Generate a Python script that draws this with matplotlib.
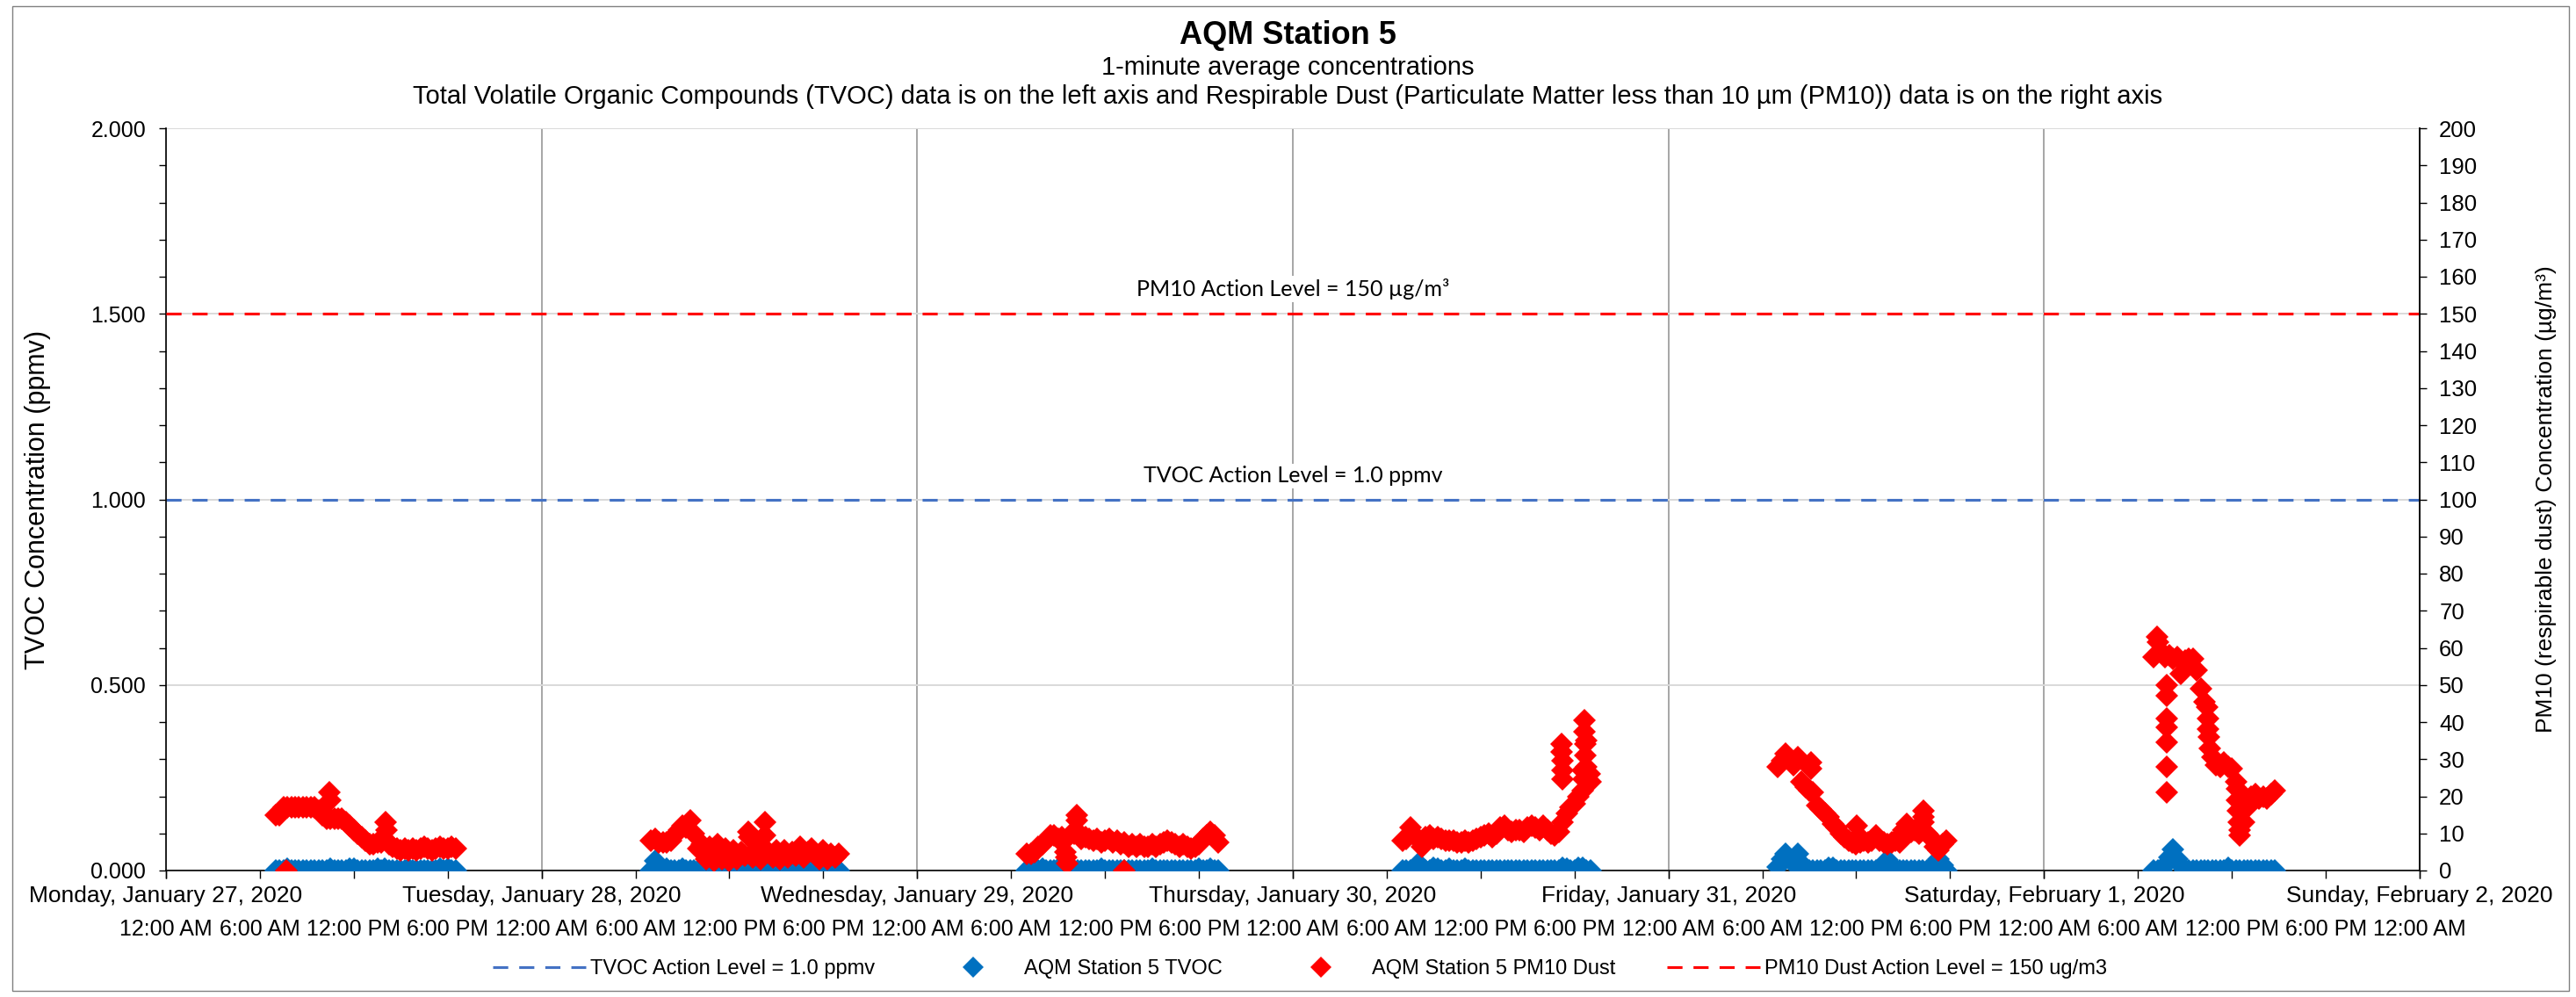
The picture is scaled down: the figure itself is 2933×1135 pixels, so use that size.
import matplotlib
matplotlib.use("Agg")
import matplotlib.pyplot as plt
from matplotlib.lines import Line2D
from matplotlib.patches import Rectangle
from datetime import datetime, timedelta

plt.rcParams['font.family'] = ['Liberation Sans', 'DejaVu Sans']

# ---- data ----
base_day = datetime(2020, 1, 27)
day_labels = ["Monday, January 27, 2020", "Tuesday, January 28, 2020",
              "Wednesday, January 29, 2020", "Thursday, January 30, 2020",
              "Friday, January 31, 2020", "Saturday, February 1, 2020",
              "Sunday, February 2, 2020"]

step_min = 15            # readings below are every 15 minutes
run_start_hour = [7.0, 7.0, 7.0, 7.0, 7.0, 7.0]   # first reading of each day

# PM10 dust (ug/m3), right axis
pm10_jan27 = [15.0, 15.0, 17.0, 17.0, 17.0, 17.0, 17.0, 17.0, 17.0, 17.0, 17.0, 16.0,
              15.0, 14.0, 14.0, 14.0, 14.0, 14.0, 13.0, 12.0, 11.0, 10.0, 9.0, 8.0,
              7.0, 7.0, 7.5, 7.5, 8.5, 7.0, 6.5, 6.0, 5.5, 6.0, 5.5, 6.0,
              5.5, 6.0, 6.5, 6.0, 5.5, 6.0, 6.5, 6.0, 6.0, 6.5, 6.0]
pm10_jan28 = [8.0, 8.5, 7.5, 7.5, 7.5, 8.0, 9.5, 11.0, 12.0, 11.5, 13.5, 10.0,
              6.0, 7.0, 3.0, 6.5, 2.5, 7.0, 3.0, 6.0, 2.5, 5.5, 3.0, 5.0,
              4.0, 9.0, 3.5, 6.0, 3.0, 9.5, 5.0, 3.5, 5.5, 3.0, 5.5, 3.5,
              5.0, 4.0, 6.5, 3.5, 5.0, 6.0, 4.0, 3.0, 5.5, 3.0, 4.5, 3.5, 4.5]
pm10_jan29 = [4.5, 4.5, 5.0, 6.5, 7.0, 8.0, 9.5, 9.5, 8.5, 9.0, 3.5, 9.5,
              10.0, 10.5, 8.5, 9.0, 8.5, 8.0, 8.5, 7.5, 8.0, 8.5, 7.5, 8.0,
              7.0, 7.5, 6.5, 7.0, 6.5, 7.0, 6.5, 6.5, 7.0, 6.5, 7.0, 7.5,
              8.0, 7.5, 7.0, 6.5, 7.0, 6.5, 6.0, 6.5, 7.0, 8.5, 9.5, 10.5, 9.5, 7.5]
pm10_jan30 = [8.0, 8.5, 11.5, 9.5, 8.5, 6.5, 9.0, 9.5, 8.5, 9.0, 8.5, 8.0,
              8.0, 8.0, 7.5, 7.5, 8.0, 7.5, 8.0, 8.5, 9.0, 9.5, 10.0, 9.0,
              10.0, 11.5, 12.0, 11.0, 10.5, 11.0, 11.0, 10.5, 11.5, 12.0, 11.5, 11.0,
              12.0, 11.0, 10.0, 9.5, 10.5, 13.0, 15.5, 17.0, 18.0, 20.0, 27.0, 35.0, 24.0]
pm10_jan31 = [28.0, 29.5, 31.5, 29.5, 28.5, 30.5, 24.0, 22.5, 21.5, 21.0, 17.5, 16.5,
              15.5, 14.5, 12.5, 11.5, 10.0, 9.0, 8.0, 7.5, 7.0, 7.5, 8.0, 7.5,
              8.0, 9.5, 8.0, 7.5, 7.0, 7.5, 8.0, 7.5, 11.0, 12.5, 10.5, 11.0,
              10.0, 11.0, 10.0, 9.0, 6.5, 5.5, 7.0, 8.0]
pm10_feb01 = [57.5, 61.5, 59.0, 57.5, 58.0, 57.0, 57.5, 53.0, 56.5, 57.0, 57.0, 54.0,
              49.0, 45.5, 38.0, 30.5, 28.5, 28.0, 29.0, 28.0, 27.5, 24.0, 11.0, 13.0,
              17.0, 20.0, 20.5, 19.5, 20.0, 19.5, 20.5, 21.5]
pm10_runs = [pm10_jan27, pm10_jan28, pm10_jan29, pm10_jan30, pm10_jan31, pm10_feb01]

# isolated PM10 readings: (day index, hour of day, value)
pm10_extra = [(0, 7.7, 0.0), (0, 10.45, 21.0), (0, 10.5, 19.0), (0, 14.05, 13.0), (0, 14.08, 11.0),
              (1, 13.2, 10.5), (1, 14.3, 13.0),
              (2, 9.45, 5.0), (2, 9.55, 2.0), (2, 10.2, 15.0), (2, 10.22, 13.5), (2, 13.2, 0.0),
              (3, 17.2, 34.0), (3, 17.2, 32.0), (3, 17.22, 29.5), (3, 17.22, 27.0), (3, 17.25, 24.5),
              (3, 18.5, 21.5), (3, 18.55, 24.5), (3, 18.62, 40.5), (3, 18.65, 37.5), (3, 18.68, 34.0),
              (3, 18.7, 31.0), (3, 18.72, 28.0), (3, 18.95, 26.0),
              (4, 9.1, 29.0), (4, 9.1, 27.5), (4, 12.05, 12.0), (4, 16.3, 16.0), (4, 16.3, 14.5),
              (4, 16.3, 13.0),
              (5, 7.2, 63.0), (5, 7.84, 50.0), (5, 7.84, 47.0), (5, 7.84, 41.0), (5, 7.84, 38.5),
              (5, 7.84, 34.5), (5, 7.84, 28.0), (5, 7.84, 21.0), (5, 10.4, 44.0), (5, 10.5, 41.0),
              (5, 10.55, 36.0), (5, 10.6, 33.0), (5, 12.3, 22.0), (5, 12.35, 19.0), (5, 12.4, 16.0),
              (5, 12.45, 13.0), (5, 12.52, 9.5)]

# TVOC (ppmv), left axis
tvoc_jan27 = [0.0, 0.0, 0.0, 0.005, 0.0, 0.0, 0.0, 0.0, 0.0, 0.0, 0.0, 0.0,
              0.0, 0.0, 0.005, 0.0, 0.0, 0.0, 0.0, 0.004, 0.005, 0.0, 0.0, 0.0,
              0.0, 0.0, 0.004, 0.0, 0.004, 0.0, 0.0, 0.0, 0.0, 0.0, 0.005, 0.0,
              0.0, 0.0, 0.0, 0.0, 0.0, 0.0, 0.004, 0.0, 0.005, 0.0, 0.0]
tvoc_jan28 = [0.0, 0.025, 0.012, 0.0, 0.005, 0.0, 0.0, 0.0, 0.004, 0.0, 0.0, 0.0,
              0.0, 0.0, 0.0, 0.004, 0.0, 0.0, 0.0, 0.0, 0.0, 0.0, 0.0, 0.0,
              0.004, 0.0, 0.0, 0.0, 0.0, 0.0, 0.0, 0.0, 0.004, 0.0, 0.0, 0.0,
              0.0, 0.0, 0.004, 0.0, 0.0, 0.0, 0.0, 0.0, 0.0, 0.0, 0.004, 0.0, 0.0]
tvoc_jan29 = [0.0, 0.0, 0.0, 0.0, 0.005, 0.0, 0.0, 0.0, 0.005, 0.0, 0.0, 0.0,
              0.0, 0.0, 0.0, 0.0, 0.0, 0.0, 0.0, 0.005, 0.0, 0.0, 0.0, 0.0,
              0.0, 0.0, 0.0, 0.0, 0.0, 0.0, 0.0, 0.0, 0.005, 0.0, 0.0, 0.0,
              0.0, 0.0, 0.0, 0.0, 0.0, 0.0, 0.0, 0.0, 0.005, 0.0, 0.0, 0.005, 0.0, 0.0]
tvoc_jan30 = [0.0, 0.0, 0.0, 0.0, 0.02, 0.008, 0.0, 0.0, 0.006, 0.005, 0.0, 0.0,
              0.005, 0.0, 0.0, 0.0, 0.004, 0.0, 0.0, 0.0, 0.0, 0.0, 0.0, 0.0,
              0.0, 0.0, 0.0, 0.0, 0.0, 0.0, 0.0, 0.0, 0.0, 0.0, 0.0, 0.0,
              0.0, 0.0, 0.0, 0.0, 0.0, 0.006, 0.005, 0.0, 0.0, 0.008, 0.006, 0.0, 0.0]
tvoc_jan31 = [0.01, 0.03, 0.045, 0.03, 0.02, 0.045, 0.02, 0.005, 0.0, 0.0, 0.0, 0.0,
              0.0, 0.006, 0.007, 0.0, 0.0, 0.0, 0.0, 0.0, 0.0, 0.0, 0.0, 0.0,
              0.0, 0.0, 0.0, 0.0, 0.028, 0.012, 0.0, 0.0, 0.0, 0.0, 0.0, 0.0,
              0.0, 0.0, 0.0, 0.0, 0.02, 0.03, 0.015, 0.0]
tvoc_feb01 = [0.0, 0.0, 0.0, 0.015, 0.035, 0.057, 0.03, 0.015, 0.0, 0.0, 0.0, 0.0,
              0.0, 0.0, 0.0, 0.0, 0.0, 0.0, 0.0, 0.008, 0.0, 0.0, 0.0, 0.0,
              0.0, 0.0, 0.0, 0.0, 0.0, 0.0, 0.0, 0.0]
tvoc_runs = [tvoc_jan27, tvoc_jan28, tvoc_jan29, tvoc_jan30, tvoc_jan31, tvoc_feb01]

tvoc_action = 1.0
pm10_action = 150


def run_times(day, start_hour, n):
    t0 = base_day + timedelta(days=day, hours=start_hour)
    return [t0 + timedelta(minutes=step_min * i) for i in range(n)]


# ---- figure ----
W, H = 2933, 1135
fig = plt.figure(figsize=(W / 100, H / 100), dpi=100)
L, R, T, B = 189, 2755, 146, 991
ax = fig.add_axes([L / W, 1 - B / H, (R - L) / W, (B - T) / H])
ax2 = ax.twinx()

blue = '#0070C0'
red = '#FF0000'
ms = 13

for d, vals in enumerate(tvoc_runs):
    ax.plot(run_times(d, run_start_hour[d], len(vals)), vals, ls='none', marker='D',
            ms=ms, mew=0, color=blue, zorder=3)
for d, vals in enumerate(pm10_runs):
    ax2.plot(run_times(d, run_start_hour[d], len(vals)), vals, ls='none', marker='D',
             ms=ms, mew=0, color=red, zorder=3)
ex_t = [base_day + timedelta(days=d, hours=h) for d, h, v in pm10_extra]
ex_v = [v for d, h, v in pm10_extra]
ax2.plot(ex_t, ex_v, ls='none', marker='D', ms=ms, mew=0, color=red, zorder=3)

x0 = base_day
x1 = base_day + timedelta(days=6)
dash = (0, (5.5, 4))
ax.plot([x0, x1], [tvoc_action, tvoc_action], color='#4472C4', lw=2.25, ls=dash, zorder=2)
ax2.plot([x0, x1], [pm10_action, pm10_action], color=red, lw=2.25, ls=dash, zorder=2)

mid = base_day + timedelta(days=3)
ax.text(mid, 1.063, 'TVOC Action Level = 1.0 ppmv', ha='center', va='center',
        family=['Lato', 'DejaVu Sans'], fontsize=18, zorder=4,
        bbox=dict(fc='white', ec='none', pad=2))
ax2.text(mid, 156.7, 'PM10 Action Level = 150 µg/m³', ha='center', va='center',
         family=['Lato', 'DejaVu Sans'], fontsize=18, zorder=4,
         bbox=dict(fc='white', ec='none', pad=2))

# axes limits and ticks
ax.set_xlim(x0, x1)
ax.set_ylim(0, 2.0)
ax2.set_ylim(0, 200)

day_ticks = [base_day + timedelta(days=i) for i in range(7)]
ax.set_xticks(day_ticks, day_labels)
hour_ticks = [base_day + timedelta(hours=6 * i) for i in range(25)]
hour_labels = [t.strftime('%I:%M %p').lstrip('0') for t in hour_ticks]
ax.set_xticks(hour_ticks, hour_labels, minor=True)
ax.xaxis.remove_overlapping_locs = False

ax.set_yticks([0, 0.5, 1.0, 1.5, 2.0], ['%.3f' % v for v in [0, 0.5, 1.0, 1.5, 2.0]])
ax.set_yticks([i / 10 for i in range(21)], minor=True)
ax2.set_yticks(list(range(0, 201, 10)))

ax.tick_params(axis='x', which='major', direction='out', length=6.5, width=1,
               labelsize=19, pad=5.5)
ax.tick_params(axis='x', which='minor', direction='out', length=6.5, width=1,
               labelsize=18, pad=33)
ax.tick_params(axis='y', which='both', direction='out', length=6, width=1,
               labelsize=18, pad=10.5)
ax2.tick_params(axis='y', direction='out', length=6, width=1, labelsize=18.5, pad=10)

ax.grid(axis='y', which='major', color='#D9D9D9', lw=1.4, zorder=0)
ax.grid(axis='x', which='major', color='#A6A6A6', lw=1.4, zorder=0)
ax.set_axisbelow(True)

for a in (ax, ax2):
    a.spines['top'].set_visible(False)
    for s in ('left', 'right', 'bottom'):
        a.spines[s].set_linewidth(1.2)
ax2.spines['left'].set_visible(False)
ax2.spines['bottom'].set_visible(False)

ax.set_ylabel('TVOC Concentration (ppmv)', fontsize=22)
ax.yaxis.set_label_coords((58 - L) / (R - L), 0.5)
ax2.set_ylabel('PM10 (respirable dust) Concentration (µg/m³)', fontsize=19)
ax2.yaxis.set_label_coords((2887 - L) / (R - L), 0.5)

# titles
fig.text(0.5, 1 - 40 / H, 'AQM Station 5', ha='center', va='center',
         fontsize=26, fontweight='bold')
fig.text(0.5, 1 - 77 / H, '1-minute average concentrations', ha='center', va='center',
         fontsize=21)
fig.text(0.5, 1 - 110 / H, 'Total Volatile Organic Compounds (TVOC) data is on the left axis '
         'and Respirable Dust (Particulate Matter less than 10 µm (PM10)) data is on the right axis',
         ha='center', va='center', fontsize=21)

# legend
handles = [Line2D([], [], color='#4472C4', lw=2.25, ls=dash),
           Line2D([], [], ls='none', marker='D', ms=12, mew=0, color=blue),
           Line2D([], [], ls='none', marker='D', ms=12, mew=0, color=red),
           Line2D([], [], color=red, lw=2.25, ls=dash)]
labels = ['TVOC Action Level = 1.0 ppmv', 'AQM Station 5 TVOC',
          'AQM Station 5 PM10 Dust', 'PM10 Dust Action Level = 150 ug/m3']
fig.legend(handles, labels, loc='center', bbox_to_anchor=(1480 / W, 1 - 1103 / H),
           ncol=4, frameon=False, fontsize=17, handlelength=4.5, handletextpad=0.2,
           columnspacing=2.5)

# chart border
fig.add_artist(Rectangle((14 / W, 7 / H), (2925 - 14) / W, (1128 - 7) / H,
                         transform=fig.transFigure, fill=False, ec='#808080', lw=1))

fig.savefig('out.png', dpi=100)
